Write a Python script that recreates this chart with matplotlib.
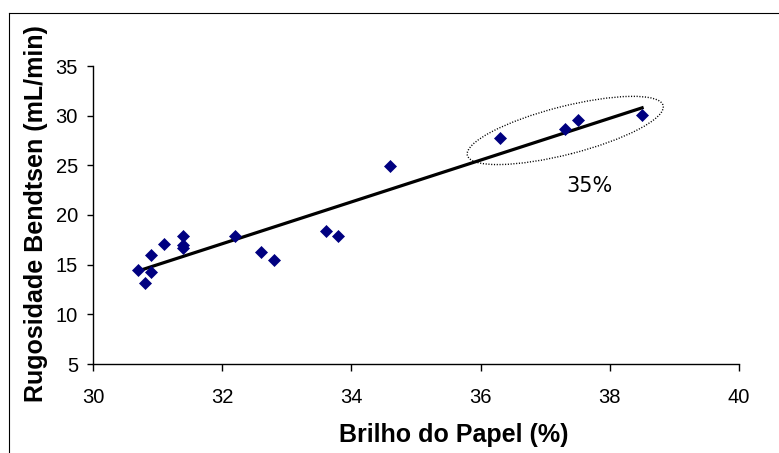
import matplotlib
matplotlib.use("Agg")
import matplotlib.pyplot as plt
import numpy as np
from matplotlib.patches import Ellipse
from matplotlib.lines import Line2D
from matplotlib.transforms import IdentityTransform

# Data
brilho = [30.7, 30.8, 30.9, 30.9, 31.1, 31.4, 31.4, 31.4, 32.2, 32.6,
          32.8, 33.6, 33.8, 34.6, 36.3, 37.3, 37.5, 38.5]
rugosidade = [14.5, 13.2, 14.3, 16.0, 17.1, 17.9, 17.0, 16.7, 17.9, 16.3,
              15.5, 18.4, 17.9, 24.9, 27.8, 28.7, 29.6, 30.1]
x_ticks = [30, 32, 34, 36, 38, 40]
y_ticks = [5, 10, 15, 20, 25, 30, 35]
x_label = "Brilho do Papel (%)"
y_label = "Rugosidade Bendtsen (mL/min)"
annot_text = "35%"

W, H = 779, 453
fig = plt.figure(figsize=(W / 100, H / 100), dpi=100)
fig.patch.set_facecolor("white")

# Axes placement (pixels)
L, R, T, B = 93, 739, 66, 364
ax = fig.add_axes([L / W, (H - B) / H, (R - L) / W, (B - T) / H])
ax.set_xlim(30, 40)
ax.set_ylim(5, 35)
ax.set_xticks(x_ticks)
ax.set_yticks(y_ticks)
for s in ["top", "right"]:
    ax.spines[s].set_visible(False)
for s in ["left", "bottom"]:
    ax.spines[s].set_linewidth(1.0)
    ax.spines[s].set_color("black")

ax.tick_params(axis="x", direction="out", length=5, width=1, pad=12, labelsize=14.5)
ax.tick_params(axis="y", direction="out", length=4.3, width=1, pad=6.5, labelsize=14.5)
for lab in ax.get_xticklabels() + ax.get_yticklabels():
    lab.set_fontfamily("Liberation Sans")

# Scatter
ax.plot(brilho, rugosidade, linestyle="none", marker="D", markersize=6.3,
        markerfacecolor="#000080", markeredgecolor="#000080", markeredgewidth=0.5,
        zorder=3)

# Linear trend line
xa = np.array(brilho)
ya = np.array(rugosidade)
m, c = np.polyfit(xa, ya, 1)
xl = np.array([xa.min(), xa.max()])
ax.plot(xl, m * xl + c, color="black", linewidth=2.3, zorder=2)

# Annotation text
ax.text(37.69, 22.9, annot_text, fontsize=15, family="DejaVu Sans",
        ha="center", va="center", color="black")

# Dotted ellipse (defined in pixel space around a data-space centre)
cx, cy = ax.transData.transform((37.31, 28.51))
ell = Ellipse((cx, cy), width=202, height=48, angle=14.3, fill=False,
              edgecolor="black", linewidth=1.0, linestyle=(0, (0.8, 1.2)),
              transform=IdentityTransform(), clip_on=False)
fig.add_artist(ell)

# Axis labels
fig.text(36.4 / W, (H - 214) / H, y_label, rotation=90, ha="center", va="center",
         fontsize=18, fontweight="bold", family="Liberation Sans")
fig.text(454 / W, (H - 434.6) / H, x_label, ha="center", va="center",
         fontsize=18, fontweight="bold", family="Liberation Sans")

# Outer frame (left and top edges visible)
fx, fy = 8.5 / W, (H - 13) / H
fig.add_artist(Line2D([fx, fx], [fy, -0.1], transform=fig.transFigure,
                      color="black", linewidth=0.8))
fig.add_artist(Line2D([fx, 1.1], [fy, fy], transform=fig.transFigure,
                      color="black", linewidth=0.8))

fig.savefig("out.png", dpi=100)
